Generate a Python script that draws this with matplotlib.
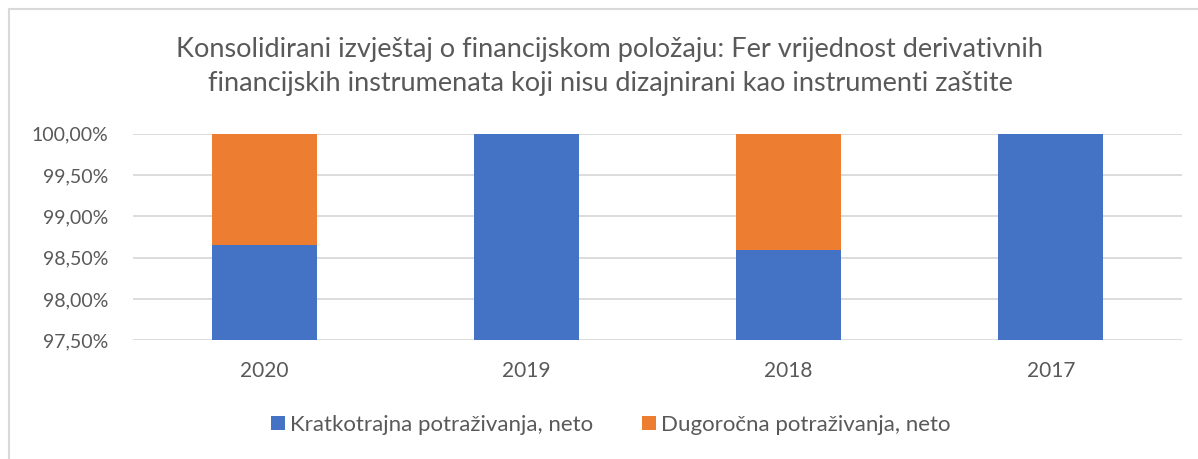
import matplotlib
matplotlib.use("Agg")
import matplotlib.pyplot as plt
from matplotlib.patches import Rectangle, Patch
from matplotlib.ticker import FuncFormatter

categories = ["2020", "2019", "2018", "2017"]
kratkotrajna = [98.65, 100.0, 98.59, 100.0]
dugorocna = [1.35, 0.0, 1.41, 0.0]
series_names = ["Kratkotrajna potraživanja, neto", "Dugoročna potraživanja, neto"]
title = ("Konsolidirani izvještaj o financijskom položaju: Fer vrijednost derivativnih\n"
         "financijskih instrumenata koji nisu dizajnirani kao instrumenti zaštite")

BLUE = "#4472C4"
ORANGE = "#ED7D31"
TEXT = "#595959"
GRID = "#D9D9D9"

plt.rcParams["font.family"] = ["Lato", "DejaVu Sans"]

fig = plt.figure(figsize=(11.98, 4.59), dpi=100)
fig.patches.append(Rectangle((8.5 / 1198, -0.1), 1.2, (459 - 8.5) / 459 + 0.1,
                             transform=fig.transFigure, fill=False,
                             edgecolor=GRID, linewidth=1.5, zorder=0))

ax = fig.add_axes([133 / 1198, (459 - 340.3) / 459, (1182 - 133) / 1198, (340.3 - 133.7) / 459])
x = list(range(len(categories)))
ax.bar(x, kratkotrajna, width=0.4, color=BLUE, zorder=3)
ax.bar(x, dugorocna, width=0.4, bottom=kratkotrajna, color=ORANGE, zorder=3)

ax.set_xlim(-0.5, len(categories) - 0.5)
ax.set_ylim(97.5, 100.0)
ax.set_yticks([97.5, 98.0, 98.5, 99.0, 99.5, 100.0])
ax.yaxis.set_major_formatter(FuncFormatter(lambda v, p: f"{v:.2f}%".replace(".", ",")))
ax.set_xticks(x)
ax.set_xticklabels(categories)
ax.grid(axis="y", color=GRID, linewidth=1.3, zorder=0)
for s in ax.spines.values():
    s.set_visible(False)
ax.tick_params(axis="both", length=0, colors=TEXT)
ax.tick_params(axis="y", pad=17.5, labelsize=14)
ax.tick_params(axis="x", pad=15, labelsize=15)

fig.text(610 / 1198, 1 - 66.5 / 459, title, ha="center", va="center",
         fontsize=19.5, color=TEXT, linespacing=1.5)

handles = [Patch(facecolor=BLUE), Patch(facecolor=ORANGE)]
leg = fig.legend(handles, series_names, loc="center", bbox_to_anchor=(611 / 1198, 1 - 425 / 459),
                 ncol=2, frameon=False, fontsize=16, handlelength=0.6, handleheight=0.6,
                 handletextpad=0.25, columnspacing=2.2)
for t in leg.get_texts():
    t.set_color(TEXT)

fig.savefig("out.png", dpi=100, facecolor="white")
